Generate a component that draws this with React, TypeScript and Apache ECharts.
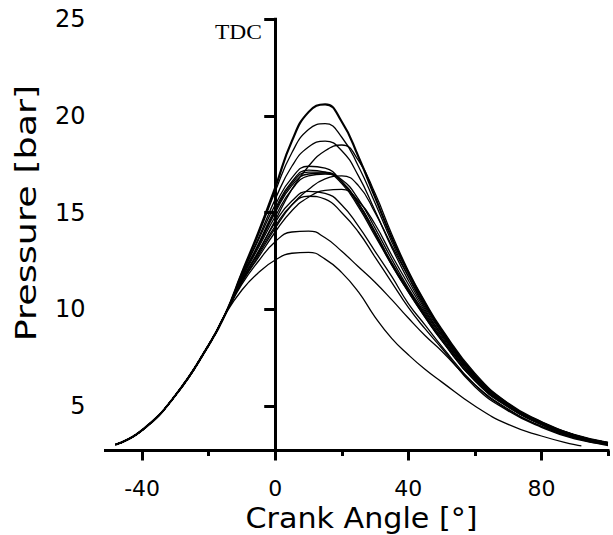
import React, { useEffect, useRef } from "react";
import * as echarts from "echarts";

// Crank angle sample positions [°]
const crankAngles = [-48, -40, -30, -20, -15, -10, -5, 0, 5, 10, 15, 20, 25, 30, 35, 40, 45, 50, 60, 70, 80, 90, 100];
const crankAnglesShort = [-48, -40, -30, -20, -15, -10, -5, 0, 5, 10, 15, 20, 25, 30, 35, 40, 45, 50, 60, 70, 80, 90, 92];

// Cylinder pressure [bar] of individual cycles
const cycle1 = [3.0, 3.75, 5.55, 8.15, 9.75, 11.9, 14.0, 16.3, 18.7, 20.2, 20.6, 19.7, 17.9, 15.8, 13.7, 11.9, 10.3, 8.9, 6.6, 5.1, 4.15, 3.5, 3.1];
const cycle2 = [3.0, 3.75, 5.55, 8.15, 9.75, 11.9, 13.9, 16.1, 18.1, 19.3, 19.6, 18.9, 17.4, 15.5, 13.5, 11.7, 10.1, 8.8, 6.5, 5.1, 4.15, 3.5, 3.1];
const cycle3 = [3.0, 3.75, 5.55, 8.15, 9.75, 11.8, 13.7, 15.7, 17.4, 18.4, 18.7, 18.2, 16.9, 15.1, 13.2, 11.5, 10.0, 8.7, 6.5, 5.05, 4.1, 3.45, 3.05];
const cycle4 = [3.0, 3.75, 5.55, 8.15, 9.75, 11.5, 13.0, 14.6, 16.2, 17.4, 18.2, 18.5, 17.7, 16.0, 13.9, 12.0, 10.4, 9.0, 6.7, 5.15, 4.2, 3.5, 3.1];
const cycle5 = [3.0, 3.75, 5.55, 8.15, 9.75, 11.8, 13.6, 15.4, 16.8, 17.4, 17.3, 16.6, 15.4, 13.9, 12.3, 10.9, 9.6, 8.4, 6.3, 4.95, 4.05, 3.4, 3.05];
const cycle6 = [3.0, 3.75, 5.55, 8.15, 9.75, 11.7, 13.4, 15.2, 16.6, 17.2, 17.1, 16.5, 15.3, 13.8, 12.3, 10.9, 9.6, 8.4, 6.3, 4.95, 4.05, 3.4, 3.05];
const cycle7 = [3.0, 3.75, 5.55, 8.15, 9.75, 11.7, 13.3, 15.0, 16.4, 17.0, 17.05, 16.6, 15.5, 14.0, 12.4, 11.0, 9.7, 8.5, 6.4, 5.0, 4.05, 3.4, 3.05];
const cycle8 = [3.0, 3.75, 5.55, 8.15, 9.75, 11.6, 13.2, 14.8, 16.2, 16.9, 17.0, 16.7, 15.7, 14.2, 12.6, 11.1, 9.8, 8.6, 6.4, 5.0, 4.1, 3.45, 3.05];
const cycle9 = [3.0, 3.75, 5.55, 8.15, 9.75, 11.4, 12.8, 14.2, 15.4, 16.2, 16.75, 16.9, 16.4, 15.0, 13.3, 11.7, 10.2, 8.9, 6.6, 5.1, 4.15, 3.5, 3.1];
const cycle10 = [3.0, 3.75, 5.55, 8.15, 9.75, 11.4, 12.7, 14.0, 15.1, 15.8, 16.15, 16.2, 15.6, 14.4, 12.8, 11.3, 9.9, 8.7, 6.5, 5.05, 4.1, 3.45, 3.05];
const cycle11 = [3.0, 3.75, 5.55, 8.15, 9.75, 11.5, 13.0, 14.5, 15.6, 16.1, 16.0, 15.4, 14.3, 13.0, 11.7, 10.3, 9.2, 8.1, 6.1, 4.8, 3.95, 3.35, 3.0];
const cycle12 = [3.0, 3.75, 5.55, 8.15, 9.75, 11.5, 12.9, 14.3, 15.4, 15.85, 15.7, 15.0, 14.0, 12.7, 11.4, 10.1, 9.0, 8.0, 6.0, 4.75, 3.9, 3.3, 3.0];
const cycle13 = [3.0, 3.75, 5.55, 8.15, 9.75, 11.3, 12.5, 13.5, 14.0, 14.05, 13.7, 13.0, 12.2, 11.4, 10.5, 9.55, 8.65, 7.85, 6.1, 4.85, 3.95, 3.35, 2.95];
const cycle14 = [3.0, 3.75, 5.55, 8.15, 9.75, 11.0, 11.9, 12.55, 12.9, 12.95, 12.6, 11.9, 10.9, 9.6, 8.5, 7.65, 6.9, 6.25, 5.0, 4.05, 3.45, 3.0, 2.94];
const cycle15 = [3.0, 3.75, 5.55, 8.15, 9.75, 11.7, 13.35, 15.1, 16.5, 17.1, 17.1, 16.6, 15.5, 14.0, 12.4, 11.0, 9.7, 8.5, 6.4, 5.0, 4.05, 3.4, 3.05];

const cycles = [cycle1, cycle2, cycle3, cycle4, cycle5, cycle6, cycle7, cycle8, cycle9, cycle10, cycle11, cycle12, cycle13, cycle14, cycle15];

const xMajorTicks = [-40, 0, 40, 80];
const xMinorTicks = [-20, 20, 60, 100];
const yTicks = [5, 10, 15, 20, 25];

const FONT = "DejaVu Sans";

export default function App() {
  const ref = useRef<HTMLDivElement>(null);

  useEffect(() => {
    if (!ref.current) return;
    const chart = echarts.init(ref.current, null, { renderer: "svg" });

    const series: any[] = cycles.map((vals, i) => {
      const xs = vals === cycle14 ? crankAnglesShort : crankAngles;
      return {
        type: "line",
        name: "cycle " + (i + 1),
        data: vals.map((v, j) => [xs[j], v]),
        smooth: true,
        showSymbol: false,
        symbol: "none",
        lineStyle: { color: "#000", width: i === 0 ? 2.2 : 1.3 },
        z: 3,
      };
    });

    series[0].markLine = {
      silent: true,
      symbol: ["none", "none"],
      label: { show: false },
      lineStyle: { color: "#000", width: 2, type: "solid" },
      data: [{ xAxis: 0 }],
    };

    const axisLineStyle = { color: "#000", width: 3, cap: "square" };

    chart.setOption({
      animation: false,
      backgroundColor: "#fff",
      grid: { left: 105.5, right: 5, top: 19.3, bottom: 84.5, containLabel: false },
      xAxis: [
        {
          type: "value",
          min: -51,
          max: 100,
          position: "bottom",
          axisLine: { show: true, lineStyle: axisLineStyle },
          axisTick: { show: true, customValues: xMajorTicks, length: 10, lineStyle: { color: "#000", width: 3 } },
          axisLabel: { customValues: xMajorTicks, fontFamily: FONT, fontSize: 22, lineHeight: 17, color: "#000", margin: 29 },
          splitLine: { show: false },
        },
        {
          type: "value",
          min: -51,
          max: 100,
          position: "bottom",
          axisLine: { show: false },
          axisTick: { show: true, customValues: xMinorTicks, length: 5.5, lineStyle: { color: "#000", width: 3 } },
          axisLabel: { show: false },
          splitLine: { show: false },
        },
      ],
      yAxis: {
        type: "value",
        min: 2.7,
        max: 25,
        axisLine: { show: true, lineStyle: axisLineStyle },
        axisTick: { show: true, customValues: yTicks, length: 11, lineStyle: { color: "#000", width: 3 } },
        axisLabel: { customValues: yTicks, fontFamily: FONT, fontSize: 24, color: "#000", margin: 20 },
        splitLine: { show: false },
      },
      graphic: [
        {
          type: "text",
          x: 361.5,
          y: 518,
          scaleX: 1.04,
          style: { text: "Crank Angle [°]", fontFamily: FONT, fontSize: 29, lineHeight: 25, fill: "#000", align: "center", verticalAlign: "middle" },
        },
        {
          type: "text",
          x: 26,
          y: 213,
          rotation: Math.PI / 2,
          scaleX: 1.26,
          style: { text: "Pressure [bar]", fontFamily: FONT, fontSize: 29, fill: "#000", align: "center", verticalAlign: "middle" },
        },
        {
          type: "text",
          x: 215,
          y: 31.5,
          scaleX: 1.12,
          style: { text: "TDC", fontFamily: "Liberation Serif", fontSize: 21, fill: "#000", align: "left", verticalAlign: "middle" },
        },
      ],
      series,
    });

    return () => chart.dispose();
  }, []);

  return (
    <div
      ref={ref}
      style={{ position: "fixed", left: 0, top: 0, width: 613, height: 535, background: "#fff" }}
    />
  );
}
